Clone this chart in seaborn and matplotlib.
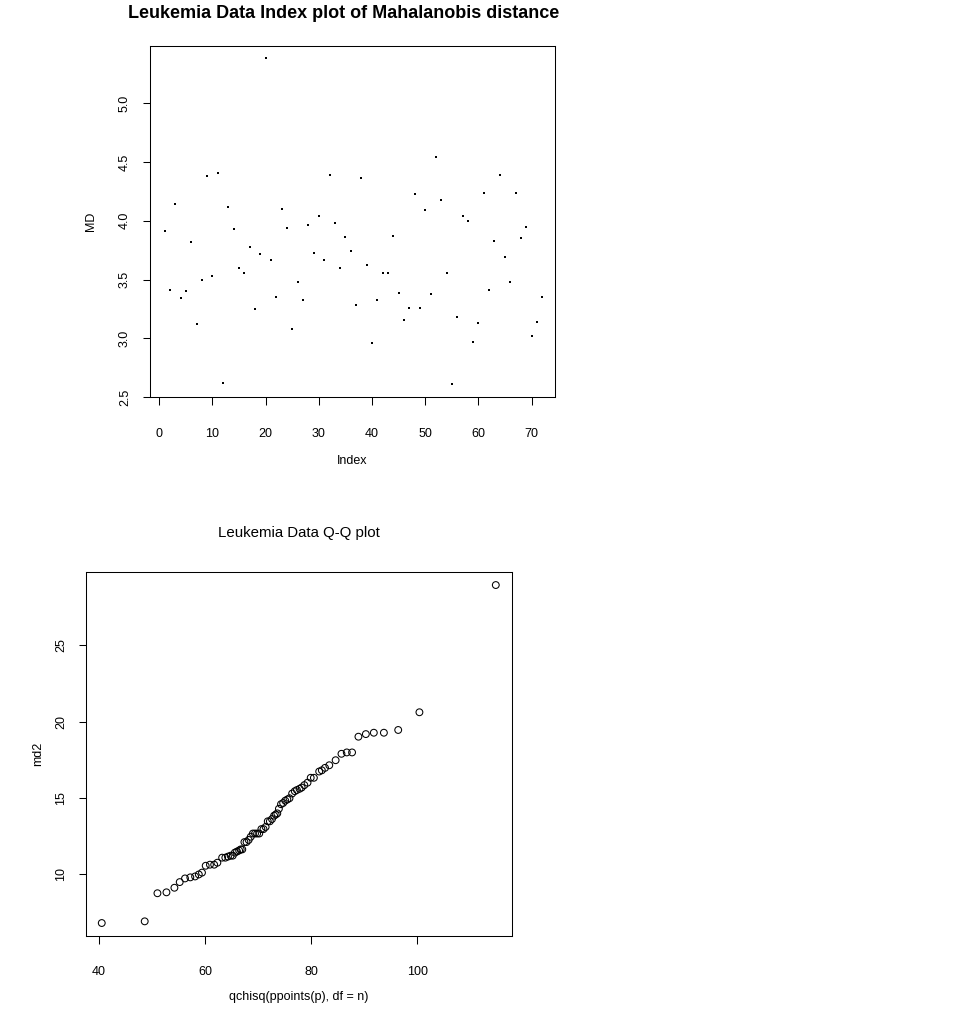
import numpy as np
import pandas as pd
import matplotlib
matplotlib.use("Agg")
import matplotlib.pyplot as plt
import seaborn as sns

# ---- data ----
md_index = list(range(1, 73))
md_values = [3.91, 3.41, 4.14, 3.34, 3.40, 3.82, 3.12, 3.50, 4.38, 3.53,
             4.41, 2.62, 4.12, 3.93, 3.60, 3.56, 3.78, 3.25, 3.72, 5.38,
             3.67, 3.35, 4.10, 3.94, 3.08, 3.48, 3.33, 3.96, 3.73, 4.04,
             3.67, 4.39, 3.98, 3.60, 3.86, 3.74, 3.28, 4.36, 3.62, 2.96,
             3.33, 3.56, 3.56, 3.87, 3.39, 3.16, 3.26, 4.23, 3.26, 4.09,
             3.38, 4.54, 4.18, 3.56, 2.61, 3.18, 4.04, 4.00, 2.97, 3.13,
             4.24, 3.41, 3.83, 4.39, 3.69, 3.48, 4.24, 3.85, 3.95, 3.02,
             3.14, 3.35]

qq_x = [40.5, 48.6, 51.0, 52.7, 54.2, 55.2, 56.2, 57.2, 58.1, 58.8,
        59.4, 60.1, 60.9, 61.7, 62.3, 63.2, 63.8, 64.3, 64.8, 65.2,
        65.6, 66.0, 66.4, 66.7, 67.0, 67.4, 67.8, 68.2, 68.6, 69.0,
        69.4, 69.8, 70.2, 70.6, 71.0, 71.4, 71.8, 72.2, 72.6, 73.0,
        73.3, 73.6, 73.9, 74.3, 74.7, 75.1, 75.5, 75.9, 76.4, 76.9,
        77.3, 77.8, 78.2, 78.7, 79.3, 79.9, 80.5, 81.5, 82.0, 82.6,
        83.4, 84.6, 85.7, 86.7, 87.7, 88.9, 90.3, 91.8, 93.7, 96.4,
        100.4, 114.8]
qq_md2 = [6.81, 6.92, 8.76, 8.82, 9.12, 9.49, 9.73, 9.80, 9.86, 9.99,
          10.11, 10.56, 10.63, 10.63, 10.76, 11.09, 11.09, 11.16, 11.22, 11.22,
          11.42, 11.49, 11.56, 11.63, 11.63, 12.11, 12.11, 12.25, 12.46, 12.67,
          12.67, 12.67, 12.67, 12.96, 12.96, 13.10, 13.47, 13.47, 13.62, 13.84,
          13.91, 13.99, 14.29, 14.59, 14.67, 14.82, 14.90, 14.98, 15.29, 15.44,
          15.52, 15.60, 15.68, 15.84, 16.00, 16.32, 16.32, 16.73, 16.81, 16.97,
          17.14, 17.47, 17.89, 17.98, 17.98, 19.01, 19.18, 19.27, 19.27, 19.45,
          20.61, 28.94]

top_xticks = [0, 10, 20, 30, 40, 50, 60, 70]
top_yticks = [2.5, 3.0, 3.5, 4.0, 4.5, 5.0]
bot_xticks = [40, 60, 80, 100]
bot_yticks = [10, 15, 20, 25]

df_md = pd.DataFrame({"Index": md_index, "MD": md_values})
df_qq = pd.DataFrame({"q": qq_x, "md2": qq_md2})

sns.set_style("white")
plt.rcParams["font.family"] = ["Liberation Sans", "DejaVu Sans"]
plt.rcParams["text.color"] = "black"
plt.rcParams["axes.labelcolor"] = "black"

W, H = 960, 1025
fig = plt.figure(figsize=(W / 100, H / 100), dpi=100)
fig.patch.set_facecolor("white")


def px_axes(left, right, top, bottom):
    return fig.add_axes([left / W, 1 - bottom / H, (right - left) / W, (bottom - top) / H])


def style_axes(ax):
    for s in ax.spines.values():
        s.set_color("black")
        s.set_linewidth(0.75)
        s.set_visible(True)
    ax.tick_params(axis="both", direction="out", length=5.4, width=0.75,
                   color="black", labelsize=9, labelcolor="black",
                   bottom=True, left=True, top=False, right=False)
    ax.tick_params(axis="x", pad=16.5)
    ax.tick_params(axis="y", pad=8, labelrotation=90)
    for lab in ax.get_yticklabels():
        lab.set_va("center")
    ax.set_xlabel("")
    ax.set_ylabel("")
    ax.grid(False)
    ax.set_facecolor("white")


# ---- top: index plot ----
ax1 = px_axes(149.5, 555, 45.5, 397.3)
sns.scatterplot(data=df_md, x="Index", y="MD", ax=ax1, marker="s", s=1.6,
                color="black", edgecolor="black", linewidth=0)
ax1.set_xlim(-1.84, 74.38)
ax1.set_ylim(2.499, 5.49)
ax1.set_xticks(top_xticks)
ax1.set_xticklabels([str(t) for t in top_xticks])
ax1.set_yticks(top_yticks)
ax1.set_yticklabels([f"{t:.1f}" for t in top_yticks])
style_axes(ax1)

fig.text(344 / W, 1 - 13 / H, "Leukemia Data Index plot of Mahalanobis distance",
         ha="center", va="center", fontsize=13, fontweight="bold")
fig.text(352 / W, 1 - 461 / H, "Index", ha="center", va="center", fontsize=9)
fig.text(91 / W, 1 - 221 / H, "MD", ha="center", va="center", fontsize=9, rotation=90)

# ---- bottom: Q-Q plot ----
ax2 = px_axes(86, 511.7, 571.6, 935.7)
sns.scatterplot(data=df_qq, x="q", y="md2", ax=ax2, marker="o", s=24,
                facecolor="none", edgecolor="black", linewidth=0.75)
ax2.set_xlim(37.53, 117.8)
ax2.set_ylim(5.98, 29.82)
ax2.set_xticks(bot_xticks)
ax2.set_xticklabels([str(t) for t in bot_xticks])
ax2.set_yticks(bot_yticks)
ax2.set_yticklabels([str(t) for t in bot_yticks])
style_axes(ax2)

fig.text(298.8 / W, 1 - 533 / H, "Leukemia Data Q-Q plot", ha="center", va="center", fontsize=10.8)
fig.text(298.8 / W, 1 - 997 / H, "qchisq(ppoints(p), df = n)", ha="center", va="center", fontsize=9)
fig.text(38 / W, 1 - 754 / H, "md2", ha="center", va="center", fontsize=9, rotation=90)

fig.savefig("out.png", dpi=100, facecolor="white")
